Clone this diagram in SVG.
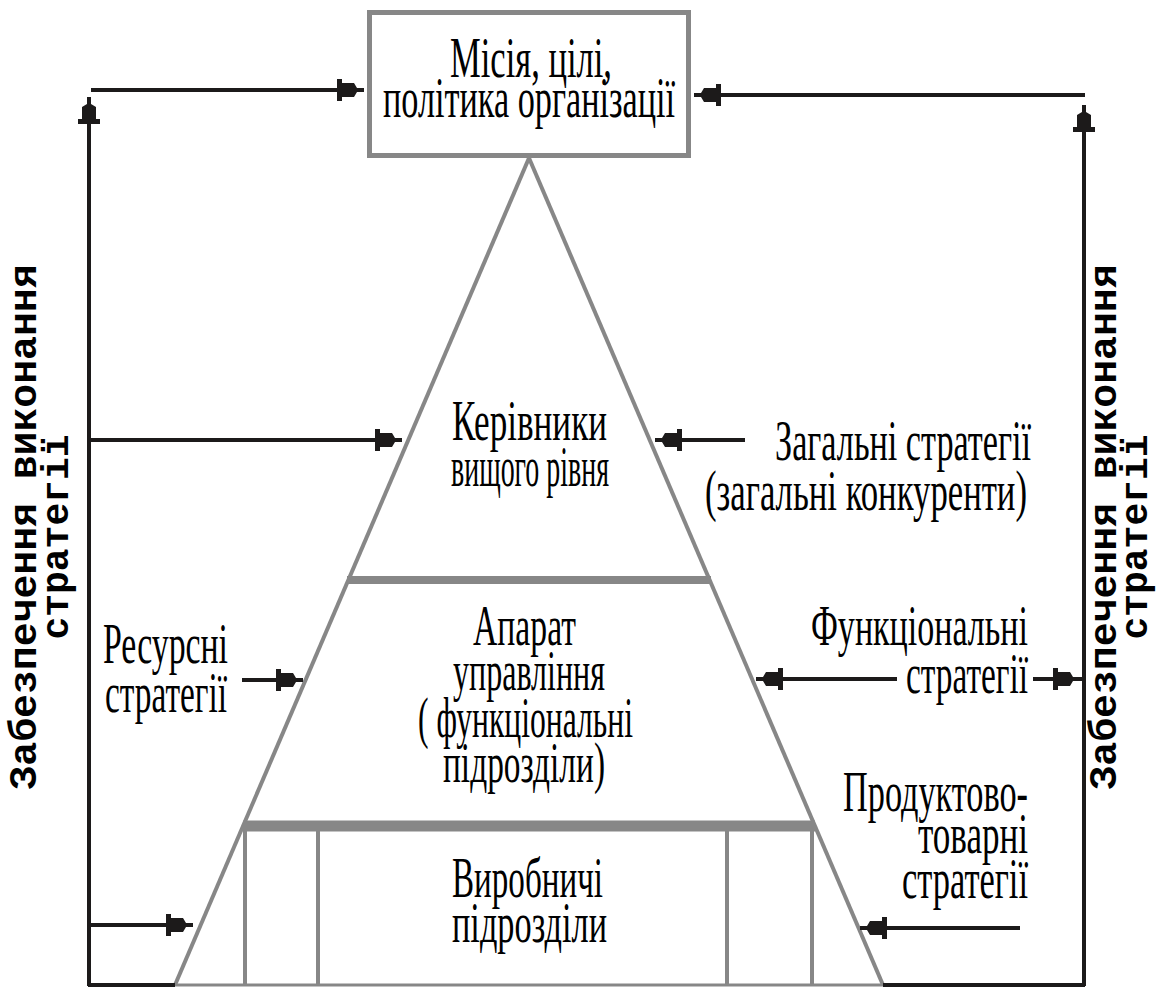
<svg xmlns="http://www.w3.org/2000/svg" width="1171" height="987" viewBox="0 0 1171 987">
  <style>
    .t { font-family: "Liberation Serif", "DejaVu Serif", serif; font-size: 56px; fill: #000; }
    .v { font-family: "Liberation Mono", "DejaVu Sans Mono", monospace; font-weight: bold; font-size: 38px; fill: #000; }
    .g { stroke: #878787; fill: none; }
    .k { stroke: #1c1a1a; fill: none; stroke-width: 4; }
    .ah { fill: #1c1a1a; }
  </style>
  <defs>
    <!-- blocky arrowhead, tip at the origin, pointing along +x -->
    <path id="ah" d="M0,-2 L-7,-2 L-10,-7 L-22,-7 L-22,-11 L-27,-11 L-27,11 L-22,11 L-22,7 L-10,7 L-7,2 L0,2 Z"/>
  </defs>
  <rect width="1171" height="987" fill="#fff"/>

  <!-- pyramid body -->
  <g id="pyramid">
    <line class="g" x1="529" y1="158" x2="175" y2="985" stroke-width="4"/>
    <line class="g" x1="529" y1="158" x2="883" y2="985" stroke-width="4"/>
    <line class="g" x1="347" y1="580" x2="711" y2="580" stroke-width="8"/>
    <line class="g" x1="243" y1="826" x2="815" y2="826" stroke-width="11"/>
    <line class="g" x1="245" y1="826" x2="245" y2="985" stroke-width="4"/>
    <line class="g" x1="318" y1="826" x2="318" y2="985" stroke-width="4"/>
    <line class="g" x1="727" y1="826" x2="727" y2="985" stroke-width="4"/>
    <line class="g" x1="812" y1="826" x2="812" y2="985" stroke-width="4"/>
    <line class="g" x1="175" y1="985" x2="883" y2="985" stroke-width="3"/>
  </g>

  <!-- mission box -->
  <g id="mission">
    <rect x="369.5" y="12.5" width="319" height="143" fill="#fff" stroke="#878787" stroke-width="5"/>
    <text class="t" x="450" y="77" textLength="162" lengthAdjust="spacingAndGlyphs">Місія, цілі,</text>
    <text class="t" x="383" y="117" textLength="292" lengthAdjust="spacingAndGlyphs">політика організації</text>
  </g>

  <g id="top-managers">
    <text class="t" x="452" y="440" textLength="155" lengthAdjust="spacingAndGlyphs">Керівники</text>
    <text class="t" x="451" y="486" textLength="158" lengthAdjust="spacingAndGlyphs">вищого рівня</text>
  </g>

  <g id="apparatus">
    <text class="t" x="473" y="645" textLength="103" lengthAdjust="spacingAndGlyphs">Апарат</text>
    <text class="t" x="453" y="690" textLength="152" lengthAdjust="spacingAndGlyphs">управління</text>
    <text class="t" x="418" y="737" textLength="215" lengthAdjust="spacingAndGlyphs">( функціональні</text>
    <text class="t" x="443" y="782" textLength="162" lengthAdjust="spacingAndGlyphs">підрозділи)</text>
  </g>

  <g id="production">
    <text class="t" x="452" y="897" textLength="151" lengthAdjust="spacingAndGlyphs">Виробничі</text>
    <text class="t" x="452" y="942" textLength="155" lengthAdjust="spacingAndGlyphs">підрозділи</text>
  </g>

  <g id="general-strategies">
    <text class="t" x="775" y="460" textLength="256" lengthAdjust="spacingAndGlyphs">Загальні стратегії</text>
    <text class="t" x="705" y="510" textLength="322" lengthAdjust="spacingAndGlyphs">(загальні конкуренти)</text>
  </g>

  <g id="resource-strategies">
    <text class="t" x="103" y="663" textLength="125" lengthAdjust="spacingAndGlyphs">Ресурсні</text>
    <text class="t" x="105" y="712" textLength="122" lengthAdjust="spacingAndGlyphs">стратегії</text>
  </g>

  <g id="functional-strategies">
    <text class="t" x="811" y="645" textLength="217" lengthAdjust="spacingAndGlyphs">Функціональні</text>
    <text class="t" x="906" y="693" textLength="122" lengthAdjust="spacingAndGlyphs">стратегії</text>
  </g>

  <g id="product-strategies">
    <text class="t" x="843" y="811" textLength="185" lengthAdjust="spacingAndGlyphs">Продуктово-</text>
    <text class="t" x="918" y="853" textLength="110" lengthAdjust="spacingAndGlyphs">товарні</text>
    <text class="t" x="902" y="898" textLength="126" lengthAdjust="spacingAndGlyphs">стратегії</text>
  </g>

  <g id="support-left">
    <text class="v" transform="translate(36,527) rotate(-90)" text-anchor="middle" textLength="525" lengthAdjust="spacingAndGlyphs">Забезпечення виконання</text>
    <text class="v" transform="translate(68,537) rotate(-90)" text-anchor="middle" textLength="205" lengthAdjust="spacingAndGlyphs">стратегії</text>
  </g>

  <g id="support-right">
    <text class="v" transform="translate(1116,527) rotate(-90)" text-anchor="middle" textLength="525" lengthAdjust="spacingAndGlyphs">Забезпечення виконання</text>
    <text class="v" transform="translate(1147,537) rotate(-90)" text-anchor="middle" textLength="205" lengthAdjust="spacingAndGlyphs">стратегії</text>
  </g>

  <!-- connectors -->
  <g id="connectors">
    <line class="k" x1="89" y1="97" x2="89" y2="986" stroke-width="3.5"/>
    <line class="k" x1="91" y1="90" x2="364" y2="90"/>
    <line class="k" x1="1084" y1="105" x2="1084" y2="986" stroke-width="3.5"/>
    <line class="k" x1="694" y1="95" x2="1085" y2="95"/>
    <line class="k" x1="89" y1="440" x2="402" y2="440"/>
    <line class="k" x1="745" y1="440" x2="655" y2="440"/>
    <line class="k" x1="242" y1="680" x2="303" y2="680"/>
    <line class="k" x1="897" y1="679" x2="756" y2="679"/>
    <line class="k" x1="1033" y1="679" x2="1082" y2="679"/>
    <line class="k" x1="1020" y1="928" x2="860" y2="928"/>
    <line class="k" x1="89" y1="925" x2="193" y2="925"/>
    <line class="k" x1="88" y1="985" x2="175" y2="985" stroke-width="3"/>
    <line class="k" x1="883" y1="985" x2="1085" y2="985" stroke-width="3"/>

    <use href="#ah" class="ah" transform="translate(364,90)"/>
    <use href="#ah" class="ah" transform="translate(89,97) rotate(-90)"/>
    <use href="#ah" class="ah" transform="translate(694,95) rotate(180)"/>
    <use href="#ah" class="ah" transform="translate(1084,105) rotate(-90)"/>
    <use href="#ah" class="ah" transform="translate(402,440)"/>
    <use href="#ah" class="ah" transform="translate(655,440) rotate(180)"/>
    <use href="#ah" class="ah" transform="translate(303,680)"/>
    <use href="#ah" class="ah" transform="translate(756,679) rotate(180)"/>
    <use href="#ah" class="ah" transform="translate(1080,679)"/>
    <use href="#ah" class="ah" transform="translate(860,928) rotate(180)"/>
    <use href="#ah" class="ah" transform="translate(193,925)"/>
  </g>
</svg>
